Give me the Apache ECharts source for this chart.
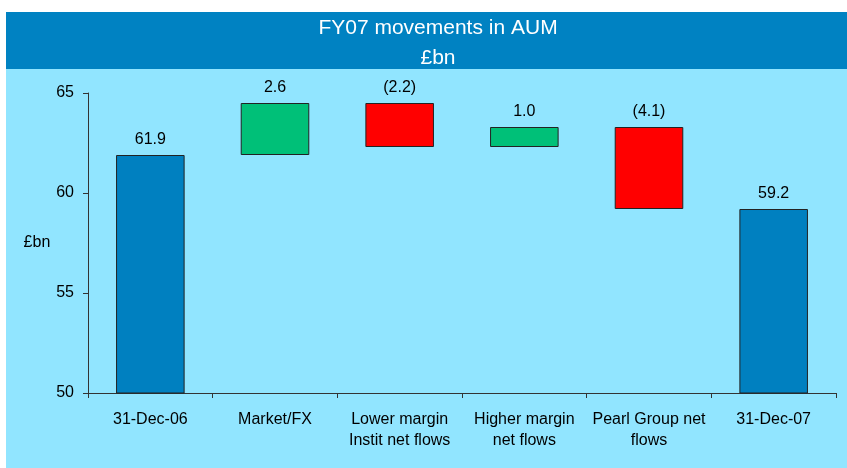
<!DOCTYPE html>
<html>
<head>
<meta charset="utf-8">
<script src="https://cdn.jsdelivr.net/npm/echarts@6/dist/echarts.min.js"></script>
<style>
  html, body { margin: 0; padding: 0; background: #fff; }
  #chart { width: 847px; height: 468px; }
</style>
</head>
<body>
<div id="chart"></div>
<script>
// categories and movements (£bn); first and last are totals
var categories = ['31-Dec-06', 'Market/FX', 'Lower margin\nInstit net flows', 'Higher margin\nnet flows', 'Pearl Group net\nflows', '31-Dec-07'];
var movements = [61.9, 2.6, -2.2, 1.0, -4.1, 59.2];
var isTotal = [true, false, false, false, false, true];
var yTicks = [50, 55, 60, 65];

var font = 'Liberation Sans, Arial, sans-serif';

// build the invisible base and the visible part of each bar
var baseData = [];
var barData = [];
var running = 0;
for (var i = 0; i < movements.length; i++) {
  var v = movements[i];
  var color;
  if (isTotal[i]) {
    baseData.push(0);
    barData.push(v);
    running = v;
    color = '#0080C0';
  } else {
    var next = running + v;
    baseData.push(Math.min(running, next));
    barData.push(Math.abs(v));
    running = next;
    color = v >= 0 ? '#00C078' : '#FF0000';
  }
  barData[i] = {
    value: +barData[i].toFixed(1),
    raw: v,
    itemStyle: { color: color }
  };
}

var chart = echarts.init(document.getElementById('chart'));
chart.setOption({
  backgroundColor: '#ffffff',
  animation: false,
  graphic: [
    { type: 'rect', z: -10, shape: { x: 6, y: 12, width: 841, height: 57 }, style: { fill: '#0082C2' } },
    { type: 'rect', z: -10, shape: { x: 6, y: 69, width: 841, height: 399 }, style: { fill: '#91E5FF' } }
  ],
  title: {
    text: 'FY07 movements in AUM\n£bn',
    left: 433,
    top: 8,
    textAlign: 'center',
    textStyle: { color: '#ffffff', fontSize: 21, fontWeight: 'normal', fontFamily: font, lineHeight: 30 }
  },
  grid: { left: 88, right: 11, top: 93, bottom: 75 },
  xAxis: {
    type: 'category',
    data: categories,
    axisLine: { lineStyle: { color: '#333333', width: 1 } },
    axisTick: { show: true, length: 5, lineStyle: { color: '#333333' } },
    axisLabel: { color: '#000000', fontSize: 16, fontFamily: font, margin: 16, lineHeight: 21, interval: 0 }
  },
  yAxis: {
    type: 'value',
    min: yTicks[0],
    max: yTicks[yTicks.length - 1],
    interval: 5,
    name: '£bn',
    nameLocation: 'middle',
    nameRotate: 0,
    nameGap: 37,
    nameTextStyle: { color: '#000000', fontSize: 16, fontFamily: font },
    splitLine: { show: false },
    axisLine: { show: true, lineStyle: { color: '#333333', width: 1 } },
    axisTick: { show: true, length: 5, lineStyle: { color: '#333333' } },
    axisLabel: { color: '#000000', fontSize: 16, fontFamily: font, margin: 14 }
  },
  series: [
    {
      type: 'bar',
      stack: 'wf',
      data: baseData,
      barWidth: '55%',
      itemStyle: { color: 'transparent' },
      silent: true
    },
    {
      type: 'bar',
      stack: 'wf',
      data: barData,
      barWidth: '55%',
      itemStyle: { borderColor: '#222222', borderWidth: 1 },
      label: {
        show: true,
        position: 'top',
        distance: 7,
        color: '#000000',
        fontSize: 16,
        fontFamily: font,
        formatter: function (p) {
          var r = p.data.raw;
          return r < 0 ? '(' + Math.abs(r).toFixed(1) + ')' : r.toFixed(1);
        }
      }
    }
  ]
});
</script>
</body>
</html>
